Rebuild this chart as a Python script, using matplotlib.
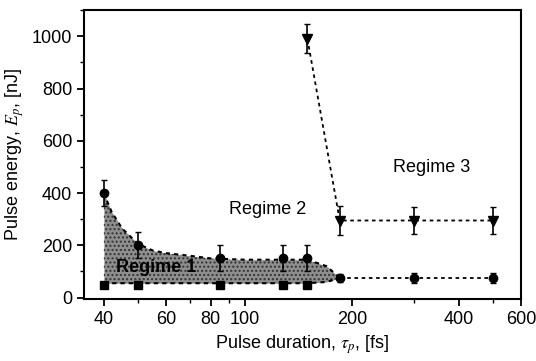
import matplotlib
matplotlib.use("Agg")
import matplotlib.pyplot as plt
from matplotlib.ticker import FixedLocator, NullFormatter, MultipleLocator
import numpy as np

plt.rcParams['font.family'] = ['Liberation Sans', 'DejaVu Sans']
plt.rcParams['mathtext.fontset'] = 'stix'
plt.rcParams['hatch.linewidth'] = 1.0

# Data
tau_circ = [40, 50, 85, 128, 150, 185, 300, 500]
E_circ = [400, 200, 150, 150, 150, 75, 75, 75]
E_circ_err = [50, 50, 50, 50, 50, 15, 20, 20]

tau_sq = [40, 50, 85, 128, 150]
E_sq = [50, 50, 50, 50, 50]

tau_tri = [150, 185, 300, 500]
E_tri = [990, 295, 295, 295]
E_tri_err = [55, 55, 50, 50]

# Regime 1 region boundaries
bnd_tau = [40, 42, 45, 50, 55, 60, 70, 80, 100, 130, 150, 170, 185]
bnd_up = [400, 330, 265, 205, 180, 170, 160, 150, 145, 145, 145, 120, 75]
bnd_lo = [55, 55, 55, 55, 55, 55, 55, 55, 55, 55, 55, 60, 75]

fig = plt.figure(figsize=(5.36, 3.61), dpi=100)
ax = fig.add_axes([0.157, 0.172, 0.815, 0.80])

ax.fill_between(bnd_tau, bnd_lo, bnd_up, color='#7a7a7a', alpha=0.85, linewidth=0, zorder=1)
ax.fill_between(bnd_tau, bnd_lo, bnd_up, facecolor='none', edgecolor='#333333', hatch='....', linewidth=0, zorder=1)
ax.plot(bnd_tau, bnd_up, ls=(0, (2, 2)), color='black', lw=1.5, zorder=2)
ax.plot(bnd_tau, bnd_lo, ls=(0, (2, 2)), color='black', lw=1.5, zorder=2)

ax.errorbar(tau_circ[:5], E_circ[:5], yerr=E_circ_err[:5], fmt='o', color='black',
            ms=6, capsize=2.5, elinewidth=1.2, zorder=4)
ax.errorbar(tau_circ[5:], E_circ[5:], yerr=E_circ_err[5:], fmt='o', color='black',
            ms=6, capsize=2.5, elinewidth=1.2, ls=(0, (2, 2)), lw=1.3, zorder=4)
ax.plot(tau_sq, E_sq, 's', color='black', ms=6, zorder=4)
ax.errorbar(tau_tri, E_tri, yerr=E_tri_err, fmt='v', color='black', ms=7,
            capsize=2.5, elinewidth=1.2, ls=(0, (2, 2)), lw=1.3, zorder=4)

ax.set_xscale('log')
ax.set_xlim(35.2, 600)
ax.set_ylim(-5, 1100)

xt = [40, 60, 80, 100, 200, 400, 600]
ax.xaxis.set_major_locator(FixedLocator(xt))
ax.set_xticklabels([str(v) for v in xt])
ax.xaxis.set_minor_locator(FixedLocator([50, 70, 90, 300, 500]))
ax.xaxis.set_minor_formatter(NullFormatter())
ax.yaxis.set_major_locator(MultipleLocator(200))
ax.yaxis.set_minor_locator(MultipleLocator(100))

ax.tick_params(which='major', direction='out', length=5, width=1.3, labelsize=13)
ax.tick_params(which='minor', direction='out', length=3, width=1.0)
for s in ax.spines.values():
    s.set_linewidth(1.5)

ax.set_xlabel(r'Pulse duration, $\tau_p$, [fs]', fontsize=13)
ax.set_ylabel(r'Pulse energy, $E_p$, [nJ]', fontsize=13)

ax.text(56, 115, 'Regime 1', fontsize=13, ha='center', va='center', zorder=5,
        fontweight='bold')
ax.text(116, 336, 'Regime 2', fontsize=13, ha='center', va='center')
ax.text(336, 496, 'Regime 3', fontsize=13, ha='center', va='center')

fig.savefig('out.png', dpi=100)
